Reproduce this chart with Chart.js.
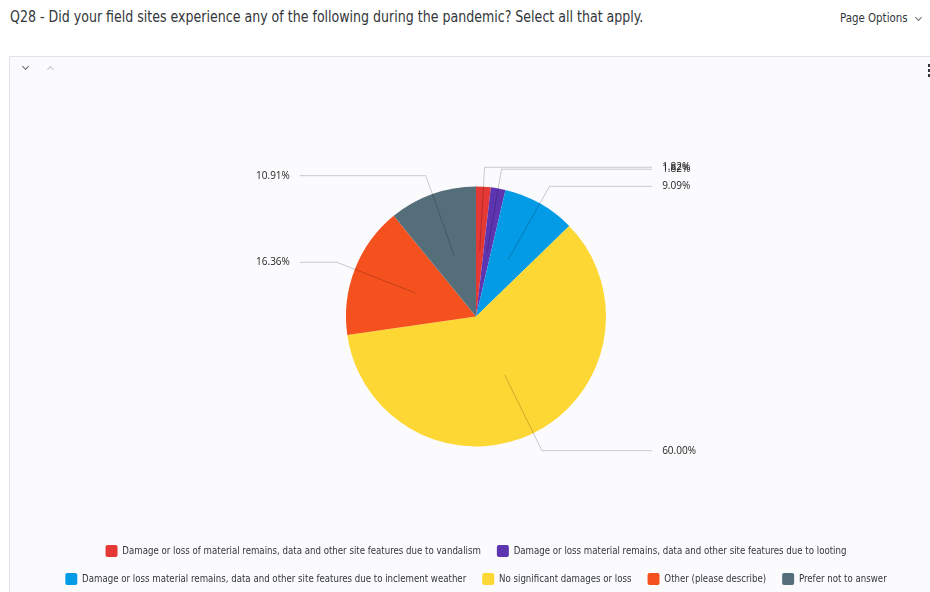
<!DOCTYPE html>
<html>
<head>
<meta charset="utf-8">
<script src="https://cdn.jsdelivr.net/npm/chart.js@4.4.1/dist/chart.umd.min.js"></script>
<style>
  html, body { margin: 0; padding: 0; background: #fff; overflow: hidden; }
  body { width: 930px; height: 592px; position: relative; font-family: "DejaVu Sans Condensed", "Liberation Sans", sans-serif; color: #32363a; }
  .title { position: absolute; left: 10px; top: 8px; font-size: 15px; white-space: nowrap; transform: scaleX(0.934); transform-origin: left center; }
  .page-options { position: absolute; left: 840px; top: 11px; font-size: 12px; white-space: nowrap; transform: scaleX(0.95); transform-origin: left center; }
  .chev { position: absolute; width: 4px; height: 4px; border-right: 1.3px solid #6a6d70; border-bottom: 1.3px solid #6a6d70; }
  .chev.down { transform: rotate(45deg); }
  .chev.up { transform: rotate(-135deg); border-color: #c4c6c8; }
  .card { position: absolute; left: 9px; top: 56px; width: 940px; height: 560px; background: #fbfbfd; border: 1px solid #e2e2e4; }
  .dot { position: absolute; left: 918px; width: 3px; height: 3px; background: #32363a; }
  #chartWrap { position: absolute; left: 0; top: 0; width: 920px; height: 538px; }
</style>
</head>
<body>
<div class="title">Q28 - Did your field sites experience any of the following during the pandemic? Select all that apply.</div>
<div class="page-options">Page Options</div>
<div class="chev down" style="left:916px; top:15px;"></div>
<div class="card">
  <div class="chev down" style="left:13px; top:7px;"></div>
  <div class="chev up" style="left:38px; top:10px;"></div>
  <div class="dot" style="top:7px;"></div>
  <div class="dot" style="top:12px;"></div>
  <div class="dot" style="top:17px;"></div>
  <div id="chartWrap"><canvas id="q28Chart"></canvas></div>
</div>
<script>
const categories = [
  'Damage or loss of material remains, data and other site features due to vandalism',
  'Damage or loss material remains, data and other site features due to looting',
  'Damage or loss material remains, data and other site features due to inclement weather',
  'No significant damages or loss',
  'Other (please describe)',
  'Prefer not to answer'
];
const percentages = [1.82, 1.82, 9.09, 60.00, 16.36, 10.91];
const sliceColors = ['#e53935', '#5e35b1', '#039be5', '#fdd835', '#f4511e', '#546e7a'];

// leader lines + percent labels outside the pie
const outsideLabels = {
  id: 'outsideLabels',
  afterDatasetsDraw(chart) {
    const ctx = chart.ctx;
    const meta = chart.getDatasetMeta(0);
    ctx.save();
    ctx.font = '10px "Open Sans", "Liberation Sans", sans-serif';
    ctx.textBaseline = 'middle';
    meta.data.forEach((arc, i) => {
      const { x, y, startAngle, endAngle, outerRadius } = arc.getProps(['x', 'y', 'startAngle', 'endAngle', 'outerRadius'], true);
      const mid = (startAngle + endAngle) / 2;
      const cos = Math.cos(mid), sin = Math.sin(mid);
      const x0 = x + cos * outerRadius * 0.5, y0 = y + sin * outerRadius * 0.5;
      const x1 = x + cos * outerRadius * 1.15, y1 = y + sin * outerRadius * 1.15;
      const right = cos >= 0;
      const x2 = right ? x + outerRadius * 1.355 : x - outerRadius * 1.355;
      ctx.strokeStyle = 'rgba(0,0,0,0.2)';
      ctx.lineWidth = 1;
      ctx.beginPath();
      ctx.moveTo(x0, y0);
      ctx.lineTo(x1, y1);
      ctx.lineTo(x2, y1);
      ctx.stroke();
      ctx.fillStyle = '#1d1d1d';
      ctx.textAlign = right ? 'left' : 'right';
      ctx.fillText(percentages[i].toFixed(2) + '%', right ? x2 + 10 : x2 - 10, y1);
    });
    ctx.restore();
  }
};

new Chart(document.getElementById('q28Chart'), {
  type: 'pie',
  data: {
    labels: categories,
    datasets: [{
      data: percentages,
      backgroundColor: sliceColors,
      borderWidth: 0,
      radius: 130
    }]
  },
  options: {
    responsive: true,
    maintainAspectRatio: false,
    animation: false,
    layout: { padding: { top: 47, left: 12 } },
    plugins: {
      tooltip: { enabled: false },
      legend: {
        position: 'bottom',
        labels: {
          boxWidth: 12,
          boxHeight: 12,
          padding: 16,
          useBorderRadius: true,
          borderRadius: 2,
          color: '#32363a',
          font: { family: '"DejaVu Sans Condensed", "Liberation Sans", sans-serif', size: 9.6 }
        }
      }
    }
  },
  plugins: [outsideLabels]
});
</script>
</body>
</html>
